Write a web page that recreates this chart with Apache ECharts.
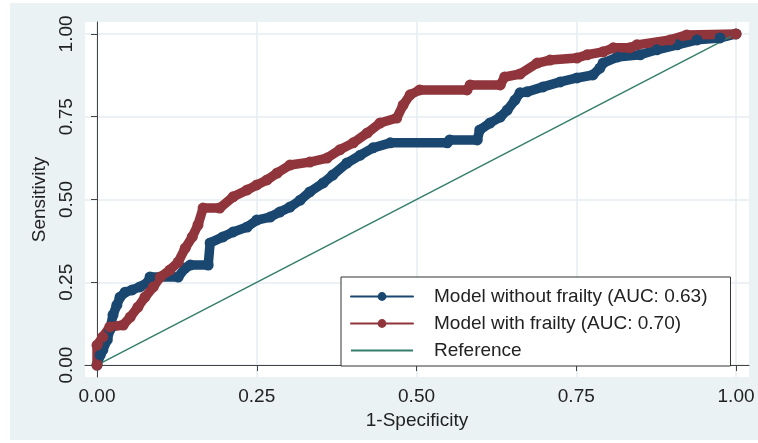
<!DOCTYPE html>
<html>
<head>
<meta charset="utf-8">
<script src="https://cdn.jsdelivr.net/npm/echarts@6/dist/echarts.min.js"></script>
<style>
  html, body { margin: 0; padding: 0; background: #fff; }
  #chart { width: 758px; height: 443px; }
</style>
</head>
<body>
<div id="chart"></div>
<script>
// ROC: model without frailty
const xWithout = [0, 0.005, 0.009, 0.016, 0.02, 0.025, 0.031, 0.036, 0.044, 0.055, 0.067, 0.08, 0.083, 0.127, 0.138, 0.146, 0.174, 0.177, 0.197, 0.213, 0.235, 0.25, 0.271, 0.286, 0.302, 0.318, 0.333, 0.354, 0.369, 0.391, 0.412, 0.432, 0.459, 0.548, 0.552, 0.595, 0.599, 0.615, 0.631, 0.642, 0.654, 0.662, 0.673, 0.698, 0.725, 0.751, 0.776, 0.787, 0.792, 0.814, 0.85, 0.876, 0.908, 0.939, 0.975, 1]
const yWithout = [0, 0.03, 0.045, 0.076, 0.106, 0.151, 0.181, 0.205, 0.22, 0.227, 0.236, 0.251, 0.266, 0.266, 0.293, 0.302, 0.302, 0.369, 0.387, 0.402, 0.417, 0.438, 0.447, 0.462, 0.477, 0.498, 0.523, 0.55, 0.574, 0.61, 0.634, 0.656, 0.671, 0.671, 0.68, 0.68, 0.71, 0.731, 0.749, 0.77, 0.8, 0.822, 0.825, 0.84, 0.855, 0.867, 0.876, 0.897, 0.912, 0.93, 0.937, 0.952, 0.967, 0.982, 0.988, 1]

// ROC: model with frailty
const xWith = [0, 0, 0.009, 0.02, 0.041, 0.052, 0.064, 0.075, 0.088, 0.099, 0.114, 0.127, 0.138, 0.149, 0.158, 0.166, 0.192, 0.213, 0.235, 0.25, 0.266, 0.282, 0.302, 0.333, 0.36, 0.38, 0.401, 0.423, 0.443, 0.469, 0.479, 0.49, 0.505, 0.579, 0.584, 0.631, 0.638, 0.662, 0.689, 0.709, 0.751, 0.767, 0.792, 0.808, 0.834, 0.845, 0.897, 0.923, 1]
const yWith = [0, 0.06, 0.085, 0.115, 0.121, 0.145, 0.175, 0.205, 0.236, 0.266, 0.287, 0.311, 0.353, 0.387, 0.423, 0.474, 0.474, 0.508, 0.529, 0.544, 0.559, 0.58, 0.604, 0.613, 0.625, 0.65, 0.671, 0.701, 0.731, 0.746, 0.785, 0.816, 0.831, 0.831, 0.846, 0.846, 0.87, 0.879, 0.912, 0.921, 0.927, 0.937, 0.946, 0.958, 0.958, 0.967, 0.982, 0.997, 1]

// diagonal reference line
const xRef = [0, 1]
const yRef = [0, 1]

const tickValues = [0, 0.25, 0.5, 0.75, 1]

const names = [
  'Model without frailty (AUC: 0.63)',
  'Model with frailty (AUC: 0.70)',
  'Reference'
]

const zip = (xs, ys) => xs.map((x, i) => [x, ys[i]])

const font = 'Liberation Sans, Arial, Helvetica, sans-serif'
const textColor = '#222'
const axisColor = '#444'
const gridColor = '#e4edf1'

const chart = echarts.init(document.getElementById('chart'), null, { renderer: 'canvas' })

const axisCommon = {
  type: 'value',
  nameLocation: 'middle',
  nameTextStyle: { fontFamily: font, fontSize: 19, color: textColor },
  axisLine: { show: true, lineStyle: { color: axisColor, width: 1 } },
  axisTick: { show: true, length: 6, inside: false, customValues: tickValues, lineStyle: { color: axisColor } },
  axisLabel: {
    customValues: tickValues,
    fontFamily: font,
    fontSize: 19,
    color: textColor,
    margin: 10,
    formatter: v => v.toFixed(2)
  },
  splitLine: { show: true, lineStyle: { color: gridColor, width: 1.5 } }
}

chart.setOption({
  animation: false,
  backgroundColor: '#fff',
  graphic: [{
    type: 'rect',
    z: -10,
    shape: { x: 10, y: 3, width: 748, height: 437 },
    style: { fill: '#eaf2f4' }
  }],
  grid: {
    left: 85, top: 22, right: 9, bottom: 66,
    containLabel: false,
    outerBoundsMode: 'none',
    show: true,
    backgroundColor: '#fff',
    borderWidth: 0
  },
  xAxis: Object.assign({}, axisCommon, {
    min: -0.0188, max: 1.0203,
    name: '1-Specificity',
    nameGap: 24
  }),
  yAxis: Object.assign({}, axisCommon, {
    min: -0.036, max: 1.036,
    name: 'Sensitivity',
    nameGap: 34,
    nameRotate: 90,
    axisLabel: Object.assign({}, axisCommon.axisLabel, { rotate: 90, margin: 9 })
  }),
  legend: {
    orient: 'vertical',
    left: 341, top: 277,
    padding: [10, 23, 6, 9],
    itemGap: 8,
    itemWidth: 62,
    itemHeight: 11,
    selectedMode: false,
    backgroundColor: '#fff',
    borderColor: '#333',
    borderWidth: 1,
    borderRadius: 0,
    lineStyle: { width: 2 },
    textStyle: { fontFamily: font, fontSize: 19, color: textColor, padding: [0, 0, 0, 16] },
    data: [
      names[0],
      names[1],
      { name: names[2], itemStyle: { opacity: 0 } }
    ]
  },
  series: [
    {
      name: names[0],
      type: 'line',
      data: zip(xWithout, yWithout),
      color: '#1a476f',
      symbol: 'circle',
      symbolSize: 11,
      showSymbol: true,
      lineStyle: { width: 9.5, join: 'round', cap: 'round' }
    },
    {
      name: names[1],
      type: 'line',
      data: zip(xWith, yWith),
      color: '#90353b',
      symbol: 'circle',
      symbolSize: 11,
      showSymbol: true,
      lineStyle: { width: 9.5, join: 'round', cap: 'round' }
    },
    {
      name: names[2],
      type: 'line',
      data: zip(xRef, yRef),
      color: '#357e6b',
      symbol: 'none',
      lineStyle: { width: 1.5 }
    }
  ]
})
</script>
</body>
</html>
